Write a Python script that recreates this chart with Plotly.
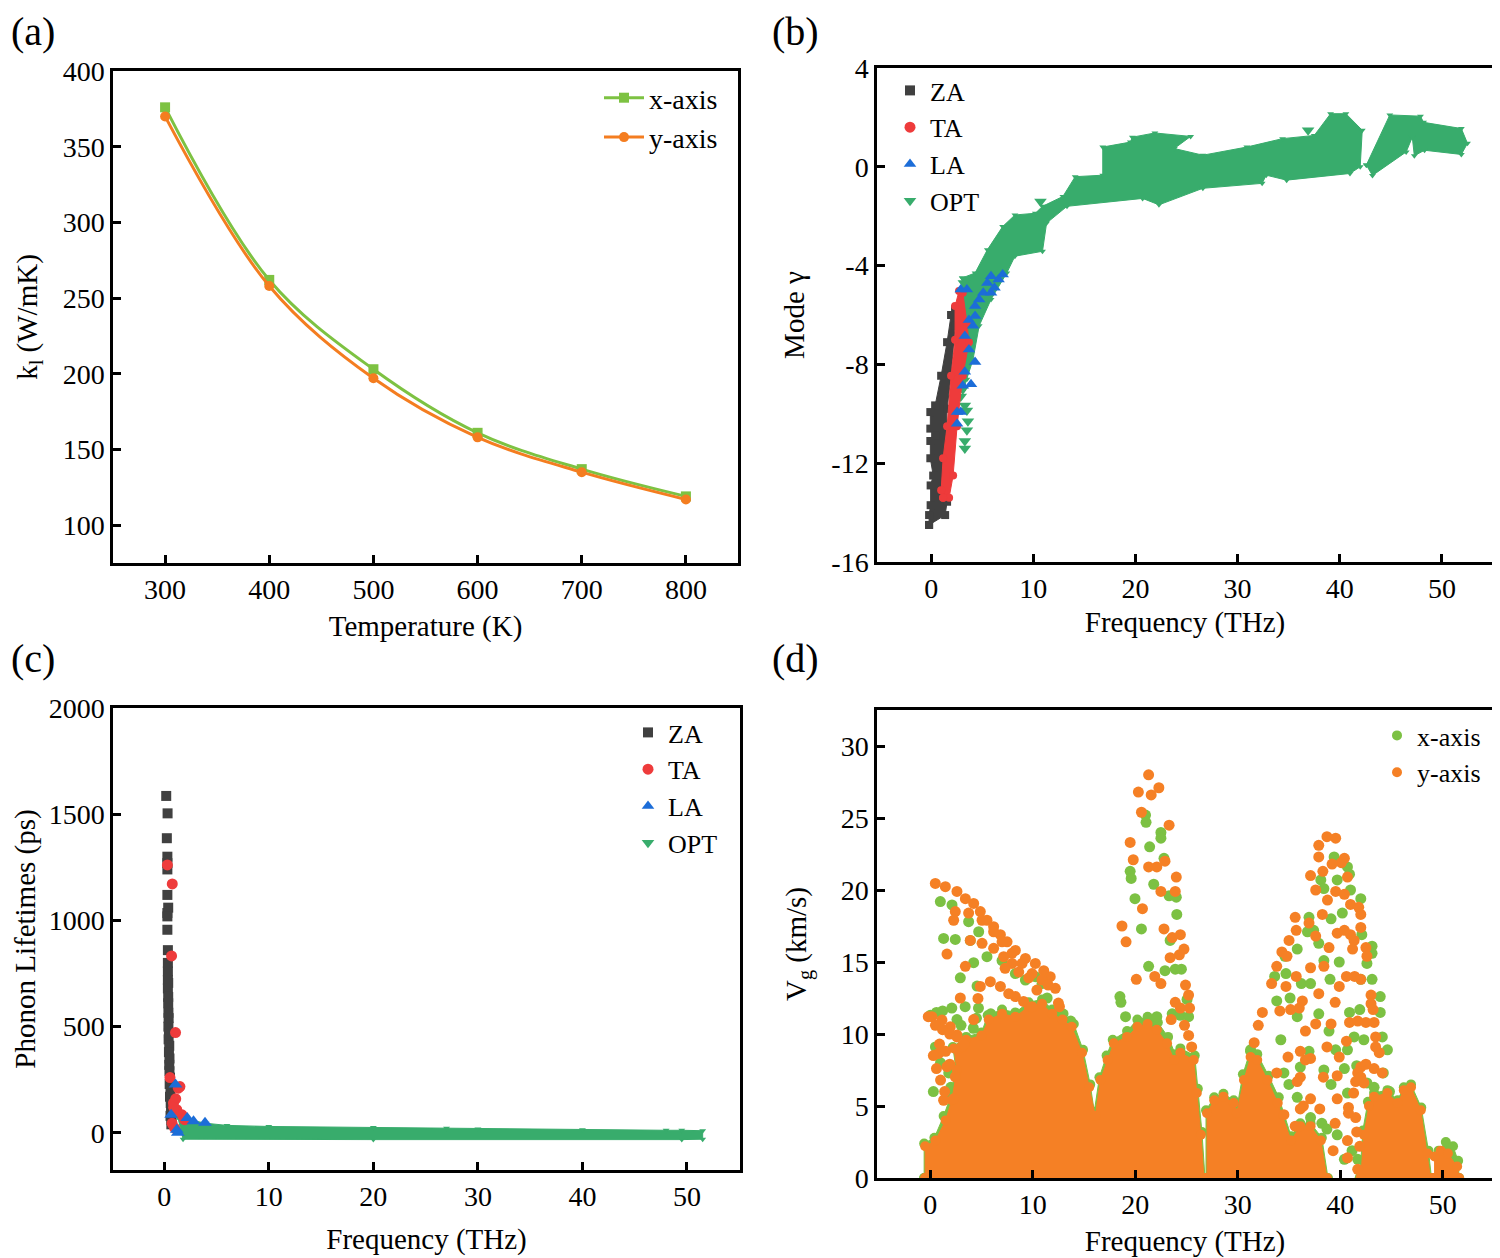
import plotly.graph_objects as go

FONT = "Liberation Serif, Times New Roman, serif"

# ---------------- Panel (a) ----------------
temps = [300, 400, 500, 600, 700, 800]
k_x = [376, 262, 203, 161, 137, 119]
k_y = [370, 258, 197, 158, 135, 117]

# ---------------- Panel (b): mode Gruneisen ----------------
b_ticks = [-16, -12, -8, -4, 0, 4]
b_ticktext = ["-16", "-12", "-8", "-4", "0", "4"]
b_za_f = [-0.2, 1.37, 1.56, 1.37, 1.56, 1.95, 2.34, 2.34, 1.95, 1.56, 0.98, 0.39, -0.08, -0.08, 0.39, -0.08, -0.08, 0.2, -0.05, -0.05, -0.2, -0.2]
b_za_g = [-14.5, -14.1, -13.56, -11.8, -9.8, -8.46, -6.44, -5.77, -6.0, -7.1, -8.46, -9.66, -9.93, -10.6, -10.87, -11.1, -11.8, -12.5, -12.9, -13.7, -14.1, -14.5]
b_ta_f = [1.17, 1.76, 2.15, 2.54, 3.1, 3.7, 3.5, 3.1, 2.73, 2.34, 2.34, 1.95, 1.56, 1.17, 0.98, 1.17]
b_ta_g = [-13.4, -13.4, -12.5, -10.5, -8.46, -7.1, -6.3, -5.1, -5.03, -5.64, -7.0, -8.46, -10.5, -11.8, -13.1, -13.4]
b_la_f = [3.5, 2.9, 4.3, 4.7, 5.1, 5.5, 5.86, 6.6, 7.0, 3.7, 4.1, 4.3, 3.3, 3.7, 4.3, 3.3, 3.9, 3.1, 2.54, 2.9, 2.54, 5.86, 6.2]
b_la_g = [-4.97, -4.97, -5.64, -5.37, -5.1, -4.7, -4.43, -4.56, -4.36, -6.2, -6.44, -6.04, -6.85, -7.4, -7.9, -8.3, -8.8, -8.86, -9.93, -9.93, -10.4, -5.1, -4.9]
b_opt1_f = [3.05, 4.3, 5.5, 7.0, 8.2, 10.2, 10.9, 12.9, 14.1, 16.8, 16.8, 19.5, 19.7, 21.9, 25.4, 23.8, 26.6, 30.9, 34.4, 37.5, 39.1, 40.6, 42.2, 42.0, 41.0, 34.8, 32.8, 32.4, 26.6, 22.3, 20.7, 13.3, 11.3, 10.9, 8.2, 7.4, 5.86, 4.7, 4.1, 3.5, 3.1, 2.9, 2.9, 3.05]
b_opt1_g = [-4.5, -4.3, -3.36, -2.42, -1.95, -1.88, -1.6, -1.2, -0.4, -0.34, 0.8, 1.0, 1.2, 1.37, 1.23, 0.74, 0.47, 0.8, 1.14, 1.27, 2.15, 2.15, 1.48, 0.0, -0.27, -0.54, -0.34, -0.67, -0.87, -1.54, -1.28, -1.6, -2.28, -3.42, -3.62, -4.3, -5.37, -6.44, -7.8, -8.6, -9.1, -7.8, -5.9, -4.5]
b_opt2_f = [42.6, 44.9, 47.9, 48.2, 51.9, 52.5, 51.9, 48.3, 47.3, 47.1, 46.5, 43.2, 42.6]
b_opt2_g = [0.07, 2.1, 2.05, 1.8, 1.55, 0.95, 0.5, 0.67, 0.45, 1.2, 0.6, -0.35, 0.07]
b_opt_pts_f = [3.3, 3.5, 3.5, 3.3, 3.3, 3.1, 2.9, 10.7, 36.9, 3.2, 3.6]
b_opt_pts_g = [-9.66, -9.87, -10.67, -11.1, -11.4, -9.0, -9.3, -1.4, 1.48, -4.7, -10.3]

# ---------------- Panel (c): phonon lifetimes ----------------
c_za_f = [0.19, 0.32, 0.25, 0.3, 0.3, 0.3, 0.3, 0.38, 0.3, 0.3, 0.3, 0.35, 0.35, 0.35, 0.35, 0.38, 0.35, 0.38, 0.38, 0.4, 0.42, 0.4, 0.45, 0.42, 0.48, 0.45, 0.5, 0.48, 0.5, 0.55, 0.52, 0.6, 0.55, 0.62, 0.65, 0.6, 0.7, 0.68]
c_za_t = [1586, 1504, 1387, 1300, 1270, 1240, 1120, 1060, 1035, 1019, 956, 860, 800, 760, 720, 706, 680, 640, 610, 565, 540, 500, 470, 440, 410, 380, 350, 320, 290, 260, 230, 200, 170, 140, 110, 80, 60, 40]
c_ta_f = [0.3, 0.77, 0.7, 1.08, 0.55, 1.35, 1.5, 0.88, 1.2, 1.7, 0.75, 1.0, 1.95, 1.1, 0.9]
c_ta_t = [1261, 1172, 833, 472, 260, 210, 218, 140, 109, 85, 45, 22, 62, 160, 120]
c_la_f = [1.08, 0.66, 1.2, 2.2, 2.8, 3.9, 1.3]
c_la_t = [227, 85, 15, 70, 55, 47, 0]
c_opt_f = [1.3, 2.5, 4.0, 6.0, 10.0, 20.0, 27.0, 30.0, 40.0, 48.0, 49.5, 51.5, 51.5, 49.5, 20.0, 1.8, 1.3]
c_opt_t = [75, 60, 45, 35, 30, 25, 22, 18, 15, 12, 12, 10, -30, -32, -32, -30, 75]

# ---------------- Panel (d): group velocity ----------------
d_or_blob1_f = [-0.5, -0.5, 0.5, 1.5, 2.1, 2.6, 2.3, 3.5, 5.0, 5.7, 7.0, 8.3, 9.6, 10.9, 11.9, 12.9, 13.8, 14.8, 15.5, 16.1, 16.6, 17.3, 17.9, 19.2, 20.2, 21.2, 22.1, 23.1, 23.8, 24.4, 25.7, 26.0, 26.4, 26.7, -0.5]
d_or_blob1_v = [0, 2.2, 2.6, 4.0, 5.4, 7.5, 9.0, 9.6, 9.9, 11.0, 11.4, 11.2, 11.9, 12.1, 11.4, 11.0, 10.5, 8.7, 6.3, 4.3, 6.8, 8.2, 9.35, 9.8, 10.5, 10.7, 10.3, 9.35, 8.2, 8.7, 8.2, 5.9, 3.0, 0, 0]
d_gr_blob1_f = [-0.6, -0.6, 0.4, 1.3, 2.0, 2.5, 2.2, 3.5, 5.0, 5.6, 7.0, 8.3, 9.6, 10.9, 11.9, 13.0, 14.0, 14.9, 15.6, 16.0, 16.5, 17.2, 17.8, 19.2, 20.2, 21.2, 22.2, 23.2, 23.9, 24.4, 25.8, 26.1, 26.5, 26.8, -0.6]
d_gr_blob1_v = [0, 2.4, 2.8, 4.3, 5.7, 7.6, 9.1, 9.8, 10.1, 11.3, 11.7, 11.5, 12.2, 12.4, 11.7, 11.4, 10.7, 8.9, 6.5, 4.6, 7.0, 8.5, 9.6, 10.2, 11.0, 11.2, 10.8, 9.8, 8.6, 9.0, 8.5, 6.2, 3.2, 0, 0]
d_or_blob2_f = [27.0, 27.0, 27.7, 28.6, 29.6, 29.9, 30.6, 31.25, 31.9, 32.9, 33.9, 35.2, 36.1, 37.1, 38.1, 38.7, 27.0]
d_or_blob2_v = [0, 4.5, 5.4, 5.65, 5.2, 4.5, 6.8, 8.4, 8.2, 6.8, 5.2, 2.6, 3.6, 3.6, 2.6, 0, 0]
d_gr_blob2_f = [26.9, 26.9, 27.7, 28.6, 29.6, 29.9, 30.5, 31.2, 31.9, 33.0, 34.0, 35.2, 36.1, 37.1, 38.2, 38.8, 26.9]
d_gr_blob2_v = [0, 4.7, 5.6, 5.85, 5.4, 4.8, 7.2, 8.8, 8.6, 7.1, 5.6, 2.9, 3.8, 3.8, 2.8, 0, 0]
d_or_blob3_f = [42.0, 42.3, 42.8, 43.3, 44.6, 45.6, 46.2, 46.9, 47.85, 48.5, 48.8, 42.0]
d_or_blob3_v = [0, 3.0, 5.0, 5.65, 5.9, 5.2, 6.1, 6.3, 4.7, 1.7, 0, 0]
d_gr_blob3_f = [41.9, 42.2, 42.7, 43.3, 44.6, 45.6, 46.2, 46.9, 47.9, 48.6, 48.9, 41.9]
d_gr_blob3_v = [0, 3.3, 5.3, 5.9, 6.1, 5.4, 6.3, 6.5, 4.9, 1.9, 0, 0]
d_or_blob4_f = [49.2, 49.2, 49.8, 50.5, 51.4, 51.6, 49.2]
d_or_blob4_v = [0, 1.5, 1.9, 1.7, 0.8, 0, 0]
d_gr_blob4_f = [49.3, 49.6, 50.3, 51.0, 51.5, 51.6, 49.3]
d_gr_blob4_v = [0, 1.9, 2.5, 2.2, 1.2, 0, 0]

d_gr_pts_f = [0.98, 2.12, 3.74, 1.3, 2.44, 3.9, 4.72, 5.53, 4.23, 2.93, 4.56, 7.0, 8.3, 9.28, 10.25, 10.9, 11.4,
              0.5, 1.8, 2.0, 0.3, 1.0, 3.7, 4.2, 0.6, 1.2, 2.1, 3.4, 4.7, 5.9, 0.0, 2.6, 3.0, 4.5, 13.7, 12.9,
              21.05, 21.0, 22.5, 22.5, 21.4, 22.8, 19.5, 19.6, 21.8, 23.3, 24.0, 19.97, 24.05, 20.6, 23.4, 21.3,
              22.9, 23.9, 24.5, 18.5, 18.6, 19.05, 22.1, 23.6, 24.4, 25.2, 25.05,
              39.4, 40.7, 38.1, 39.7, 40.9, 38.4, 41.0, 42.0, 36.95, 39.1, 40.2, 37.4, 36.8, 42.1, 35.8, 43.1,
              43.1, 37.9, 34.6, 38.4, 39.9, 42.6, 33.6, 34.7, 36.2, 37.1, 39.0, 42.0, 43.1, 33.8, 35.1, 43.9,
              43.9, 35.8, 37.9, 40.9, 41.9, 38.9, 34.2, 41.35, 42.3, 44.1, 44.6, 39.55, 40.7, 36.95, 31.25,
              36.1, 34.5, 38.4, 40.4, 41.6, 42.6, 43.3, 44.2, 34.99, 39.1, 35.8, 40.7, 37.1, 38.2, 38.7, 39.7,
              41.15, 40.4, 41.7, 44.8, 44.3]
d_gr_pts_v = [19.2, 18.96, 17.8, 16.64, 16.57, 16.5, 17.1, 15.37, 14.95, 13.9, 13.33, 15.1, 14.2, 13.75, 13.98, 13.5, 12.5,
              9.1, 7.3, 6.3, 6.0, 8.0, 9.6, 10.4, 11.5, 11.6, 11.8, 11.9, 11.8, 11.4, 11.3, 11.0, 10.6, 11.1, 10.9, 10.2,
              24.7, 25.2, 24.0, 23.6, 23.0, 22.2, 21.3, 20.8, 20.4, 19.6, 19.5, 19.4, 18.3, 17.3, 16.5, 14.7,
              14.4, 14.5, 14.5, 12.6, 12.2, 11.2, 11.2, 11.4, 11.3, 11.2, 12.4,
              22.3, 21.6, 20.7, 20.7, 21.1, 20.1, 20.0, 19.4, 18.1, 18.0, 18.4, 17.2, 17.1, 16.9, 15.9, 16.1,
              15.6, 16.3, 15.4, 15.1, 15.0, 14.9, 14.0, 14.2, 13.5, 13.5, 13.8, 13.8, 13.8, 12.3, 12.5, 12.6,
              11.5, 11.2, 11.4, 11.5, 11.7, 10.2, 9.6, 9.8, 9.6, 9.8, 8.9, 8.9, 8.9, 8.8, 8.9,
              7.7, 7.3, 7.5, 7.6, 7.8, 6.6, 6.3, 7.3, 6.5, 6.5, 5.6, 5.9, 4.2, 3.8, 3.4, 3.0,
              1.9, 1.3, 1.3, 6.0, 4.5]
d_or_pts_f = [0.49, 1.47, 2.6, 3.42, 4.23, 4.88, 5.53, 6.18, 6.84, 7.49, 8.3, 9.28, 10.25, 11.07, 11.7, 12.2, 12.6,
              2.44, 3.74, 5.05, 6.18, 7.0, 7.97, 8.95, 9.93, 10.9,
              3.9, 5.05, 6.18, 7.16, 7.97, 8.63, 9.6, 10.4,
              4.88, 5.86, 6.84, 7.65, 8.3, 9.1, 9.93,
              2.28, 1.63, 3.42, 2.93, 4.65, 7.3, 4.23, 0.16, 1.14, 1.95, 2.6, 3.09, 0.81, 1.63, 2.44, 1.3, 2.28,
              0.3, 0.6, 1.0, 1.4, 0.9, 1.5, 1.9, 0.5, 1.2, 1.9, 2.6, 3.3, -0.2, 12.5, 11.5,
              21.3, 20.3, 22.3, 21.55, 20.6, 23.3, 19.5, 19.8, 21.3, 22.1, 22.9, 24.0, 22.5, 23.9, 20.7, 18.7,
              19.1, 22.8, 23.6, 24.4, 24.75, 24.3, 23.4, 20.1, 21.9, 22.5, 24.9, 25.2, 23.9, 24.4, 25.3, 23.5,
              24.8, 25.2, 25.5,
              38.7, 39.55, 37.9, 37.9, 40.4, 40.1, 39.2, 38.3, 37.1, 40.7, 37.6, 39.55, 40.4, 38.75, 41.0, 41.8,
              42.0, 35.6, 38.25, 36.95, 42.0, 35.7, 39.7, 40.4, 41.0, 41.35, 37.6, 35.0, 38.9, 34.3, 34.8, 41.2,
              42.5, 42.6, 33.8, 37.1, 38.4, 40.6, 41.4, 42.0, 35.7, 33.3, 34.7, 39.9, 37.9, 43.0, 43.0, 43.2,
              36.3, 36.0, 35.15, 34.1, 39.5, 32.4, 32.0, 37.6, 39.1, 40.9, 41.7, 42.5, 43.3, 36.6, 43.45, 43.45,
              43.8, 31.6, 40.6, 38.7, 36.1, 37.1, 36.6, 39.9, 34.9, 42.0, 42.5, 43.3, 44.1, 41.7, 41.5, 33.8,
              36.1, 35.8, 38.35, 39.7, 41.3, 37.1, 39.7, 36.4, 36.1, 38.0, 34.5, 40.8, 40.8, 35.6, 39.5, 40.7,
              39.3, 40.7, 41.7, 41.6, 41.5, 41.9, 42.3, 42.0]
d_or_pts_v = [20.46, 20.23, 19.9, 19.4, 19.07, 18.5, 17.9, 17.45, 16.9, 16.4, 15.8, 15.25, 14.9, 14.4, 13.98, 13.17, 11.9,
              18.5, 18.4, 17.9, 17.1, 16.4, 15.6, 14.9, 14.2, 13.75,
              16.5, 16.3, 15.95, 15.37, 14.9, 14.3, 13.9, 13.05,
              13.3, 13.63, 13.3, 12.8, 12.6, 12.26, 11.9,
              17.9, 15.55, 14.7, 12.5, 12.47, 14.56, 11.0, 11.2, 10.97, 10.5, 9.93, 9.12, 8.65, 7.73, 7.03, 5.4, 5.5,
              8.5, 7.6, 6.8, 6.0, 9.3, 8.8, 7.9, 10.6, 10.3, 10.0, 9.8, 9.3, 11.2, 12.15, 13.4,
              28.0, 26.8, 27.1, 26.6, 25.4, 24.5, 23.3, 22.1, 21.6, 21.6, 22.0, 20.9, 19.9, 19.9, 18.7, 17.5,
              16.4, 17.3, 16.7, 16.9, 15.9, 15.5, 15.3, 13.8, 14.0, 13.5, 13.4, 12.7, 12.2, 11.8, 11.8, 11.0,
              10.6, 9.9, 9.1,
              23.7, 23.6, 23.1, 22.3, 22.2, 21.9, 21.8, 21.3, 21.0, 20.9, 20.0, 19.9, 19.7, 19.3, 19.0, 18.8,
              18.3, 18.1, 18.3, 17.7, 17.4, 17.2, 17.0, 17.2, 16.9, 16.5, 16.8, 16.5, 16.0, 15.7, 15.4, 15.9,
              16.0, 15.4, 14.7, 14.6, 14.7, 14.0, 14.0, 13.8, 14.0, 13.5, 13.3, 13.3, 12.8, 12.7, 12.1, 11.7,
              12.3, 11.8, 11.7, 11.6, 12.2, 11.5, 10.6, 10.7, 10.7, 10.8, 10.9, 10.8, 10.8, 10.2, 9.8, 9.1,
              8.7, 9.4, 9.5, 9.1, 8.8, 8.3, 8.2, 8.4, 8.4, 7.7, 7.9, 7.6, 7.3, 7.3, 6.7, 7.3,
              7.0, 6.7, 7.0, 7.1, 5.9, 5.5, 5.5, 5.0, 4.8, 4.8, 4.4, 4.9, 4.5, 3.6, 3.8, 2.6,
              1.9, 1.4, 0.6, 3.2, 4.2, 2.2, 6.6, 7.0]

# ---------------- colours ----------------
C_GRN_A = "#7DC242"
C_ORG_A = "#F47D20"
C_ZA = "#404040"
C_TA = "#EE3B3B"
C_LA = "#1C6DD8"
C_OPT = "#38AC6C"
C_GRN_D = "#7CC143"
C_ORG_D = "#F58025"

fig = go.Figure()

# (a)
fig.add_trace(go.Scatter(x=temps, y=k_x, mode="lines+markers", name="x-axis",
                         line=dict(color=C_GRN_A, width=3, shape="spline"),
                         marker=dict(symbol="square", size=10, color=C_GRN_A),
                         xaxis="x", yaxis="y", legend="legend"))
fig.add_trace(go.Scatter(x=temps, y=k_y, mode="lines+markers", name="y-axis",
                         line=dict(color=C_ORG_A, width=3, shape="spline"),
                         marker=dict(symbol="circle", size=10, color=C_ORG_A),
                         xaxis="x", yaxis="y", legend="legend"))


def poly(xs, ys, color, ax, msize=7, sym="circle"):
    fig.add_trace(go.Scatter(x=xs, y=ys, mode="lines+markers", fill="toself",
                             fillcolor=color, line=dict(color=color, width=1),
                             marker=dict(color=color, size=msize, symbol=sym),
                             showlegend=False, hoverinfo="skip",
                             xaxis="x" + ax, yaxis="y" + ax))


def pts(xs, ys, color, sym, size, ax):
    fig.add_trace(go.Scatter(x=xs, y=ys, mode="markers",
                             marker=dict(color=color, symbol=sym, size=size, line=dict(width=0)),
                             showlegend=False, xaxis="x" + ax, yaxis="y" + ax))


def leg(name, color, sym, size, ax, legend):
    fig.add_trace(go.Scatter(x=[None], y=[None], mode="markers", name=name,
                             marker=dict(color=color, symbol=sym, size=size),
                             xaxis="x" + ax, yaxis="y" + ax, legend=legend))


# (b)
poly(b_opt1_f, b_opt1_g, C_OPT, "2", 6, "triangle-down")
poly(b_opt2_f, b_opt2_g, C_OPT, "2", 6, "triangle-down")
pts(b_opt_pts_f, b_opt_pts_g, C_OPT, "triangle-down", 11, "2")
poly(b_za_f, b_za_g, C_ZA, "2", 8, "square")
poly(b_ta_f, b_ta_g, C_TA, "2", 8, "circle")
pts(b_la_f, b_la_g, C_LA, "triangle-up", 11, "2")
leg("ZA", C_ZA, "square", 10, "2", "legend2")
leg("TA", C_TA, "circle", 11, "2", "legend2")
leg("LA", C_LA, "triangle-up", 11, "2", "legend2")
leg("OPT", C_OPT, "triangle-down", 11, "2", "legend2")

# (c)
pts(c_za_f, c_za_t, C_ZA, "square", 10, "3")
poly(c_opt_f, c_opt_t, C_OPT, "3", 6, "triangle-down")
pts(c_ta_f, c_ta_t, C_TA, "circle", 11, "3")
pts(c_la_f, c_la_t, C_LA, "triangle-up", 12, "3")
leg("ZA", C_ZA, "square", 10, "3", "legend3")
leg("TA", C_TA, "circle", 11, "3", "legend3")
leg("LA", C_LA, "triangle-up", 11, "3", "legend3")
leg("OPT", C_OPT, "triangle-down", 11, "3", "legend3")

# (d)
for fx, fv in [(d_gr_blob1_f, d_gr_blob1_v), (d_gr_blob2_f, d_gr_blob2_v),
               (d_gr_blob3_f, d_gr_blob3_v), (d_gr_blob4_f, d_gr_blob4_v)]:
    poly(fx, fv, C_GRN_D, "4", 10)
pts(d_gr_pts_f, d_gr_pts_v, C_GRN_D, "circle", 11, "4")
for fx, fv in [(d_or_blob1_f, d_or_blob1_v), (d_or_blob2_f, d_or_blob2_v),
               (d_or_blob3_f, d_or_blob3_v), (d_or_blob4_f, d_or_blob4_v)]:
    poly(fx, fv, C_ORG_D, "4", 10)
pts(d_or_pts_f, d_or_pts_v, C_ORG_D, "circle", 11, "4")
leg("x-axis", C_GRN_D, "circle", 10, "4", "legend4")
leg("y-axis", C_ORG_D, "circle", 10, "4", "legend4")

# page body has an 8 px margin; the figure is sized to fill the rest of the window
OFF = 8
W, H = 1500 - OFF, 1258 - OFF


def xp(px):
    return (px - OFF) / W


def yp(py):
    return 1 - (py - OFF) / H


tickfont = dict(family=FONT, size=28, color="black")
titlefont = dict(family=FONT, size=29, color="black")


def axis(domain, rng, title, anchor, dtick=None, tick0=None, standoff=12, tickvals=None, ticktext=None):
    d = dict(domain=domain, range=rng, showline=True, linecolor="black",
             linewidth=2.5, mirror=True, ticks="inside", ticklen=8, tickwidth=2.5,
             tickcolor="black", tickfont=tickfont, showgrid=False, zeroline=False,
             automargin=False,
             title=dict(text=title, font=titlefont, standoff=standoff), anchor=anchor)
    if dtick is not None:
        d["dtick"] = dtick
    if tick0 is not None:
        d["tick0"] = tick0
    if tickvals is not None:
        d["tickmode"] = "array"
        d["tickvals"] = tickvals
        d["ticktext"] = ticktext
    return d


xa_dom = [xp(113), xp(738)]
xb_dom = [xp(877), xp(1493)]
xc_dom = [xp(113), xp(740)]
xd_dom = [xp(877), xp(1493)]
ya_dom = [yp(563), yp(71)]
yb_dom = [yp(562), yp(68)]
yc_dom = [yp(1170), yp(708)]
yd_dom = [yp(1178), yp(710)]

legfont = dict(family=FONT, size=28, color="black")
legfont2 = dict(family=FONT, size=26, color="black")


def label(txt, px, py):
    return dict(text=txt, x=xp(px), y=yp(py), xref="paper", yref="paper", xanchor="left",
                yanchor="middle", showarrow=False, font=dict(family=FONT, size=40, color="black"))


fig.update_layout(
    width=W, height=H, margin=dict(l=0, r=0, t=0, b=0, autoexpand=False),
    paper_bgcolor="white", plot_bgcolor="white",
    font=dict(family=FONT, color="black"),
    xaxis=axis(xa_dom, [250, 850], "Temperature (K)", "y", dtick=100),
    yaxis=axis(ya_dom, [75, 400], "k<sub>l</sub> (W/mK)", "x", dtick=50, tick0=100, standoff=17),
    xaxis2=axis(xb_dom, [-5.3, 55], "Frequency (THz)", "y2", dtick=10, tick0=0, standoff=9),
    yaxis2=axis(yb_dom, [-16, 4], "Mode γ", "x2", tickvals=b_ticks, ticktext=b_ticktext, standoff=19),
    xaxis3=axis(xc_dom, [-4.9, 55.07], "Frequency (THz)", "y3", dtick=10, tick0=0, standoff=18),
    yaxis3=axis(yc_dom, [-175, 2000], "Phonon Lifetimes (ps)", "x3", dtick=500, tick0=0, standoff=5),
    xaxis4=axis(xd_dom, [-5.2, 54.9], "Frequency (THz)", "y4", dtick=10, tick0=0),
    yaxis4=axis(yd_dom, [0, 32.5], "V<sub>g</sub> (km/s)", "x4", dtick=5, tick0=0, standoff=26),
    legend=dict(x=xp(599), y=yp(73), xanchor="left", yanchor="top", font=legfont,
                bgcolor="rgba(0,0,0,0)", itemwidth=40),
    legend2=dict(x=xp(890), y=yp(67), xanchor="left", yanchor="top", font=legfont2,
                 bgcolor="rgba(0,0,0,0)", itemwidth=30),
    legend3=dict(x=xp(628), y=yp(709), xanchor="left", yanchor="top", font=legfont2,
                 bgcolor="rgba(0,0,0,0)", itemwidth=30),
    legend4=dict(x=xp(1377), y=yp(712), xanchor="left", yanchor="top", font=legfont2,
                 bgcolor="rgba(0,0,0,0)", itemwidth=30),
    annotations=[label("(a)", 9, 32), label("(b)", 770, 32),
                 label("(c)", 9, 658), label("(d)", 770, 658)],
)

fig.write_html("out.html")
